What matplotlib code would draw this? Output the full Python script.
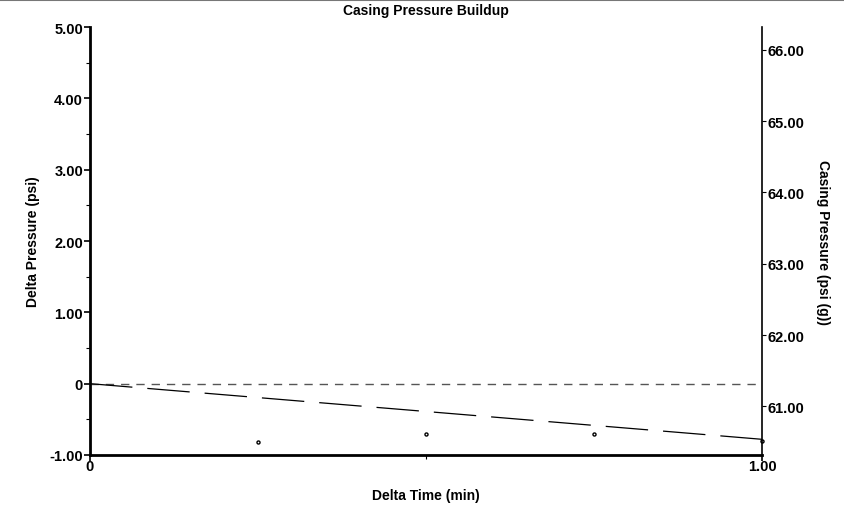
import matplotlib.pyplot as plt
from matplotlib.lines import Line2D

plt.rcParams['font.family'] = ['Liberation Sans', 'DejaVu Sans']
plt.rcParams['font.weight'] = 'bold'

# measured buildup points (delta time in min, delta pressure in psi)
delta_time = [0.25, 0.50, 0.75, 1.00]
delta_pressure = [-0.82, -0.70, -0.70, -0.81]

# fitted trend line
trend_time = [0.0, 1.0]
trend_pressure = [0.0, -0.78]

base_pressure = 61.32  # casing pressure at delta 0 (psi g)

left_ticks = [-1, 0, 1, 2, 3, 4, 5]
left_labels = ["-1.00", "0", "1.00", "2.00", "3.00", "4.00", "5.00"]
right_ticks = [61, 62, 63, 64, 65, 66]
right_labels = ["61.00", "62.00", "63.00", "64.00", "65.00", "66.00"]

fig = plt.figure(figsize=(8.44, 5.06), dpi=100)
ax = fig.add_axes([90/844, 1 - 456/506, 672/844, 428/506])

ax.axhline(0, color="#555555", lw=1.0, dashes=(6, 5))
ax.plot(trend_time, trend_pressure, color="black", lw=0.9, dashes=(34, 12))
ax.plot(delta_time, delta_pressure, "o", ms=2.2, mfc="white", mec="black", mew=1.0,
        clip_on=False)

ax.set_xlim(0, 1)
ax.set_ylim(-1, 5)
ax.set_xticks([0, 1])
ax.set_xticklabels(["0", "1.00"])
ax.set_xticks([0.5], minor=True)
ax.set_yticks(left_ticks)
ax.set_yticklabels(left_labels)
ax.set_yticks([-0.5, 0.5, 1.5, 2.5, 3.5, 4.5], minor=True)
ax.tick_params(axis="both", labelsize=10.5, length=4, width=1.2, pad=1)
ax.tick_params(axis="both", which="minor", length=3, width=0.8)
ax.tick_params(axis="x", pad=-1)

for s in ["top", "right"]:
    ax.spines[s].set_visible(False)
ax.spines["left"].set_linewidth(2.0)
ax.spines["bottom"].set_linewidth(2.0)

ax.set_title("Casing Pressure Buildup", fontsize=10, fontweight="bold", pad=9)
ax.set_xlabel("Delta Time (min)", fontsize=10, fontweight="bold", labelpad=11)
ax.set_ylabel("Delta Pressure (psi)", fontsize=10, fontweight="bold", labelpad=7)

ax2 = ax.twinx()
ax2.set_ylim(base_pressure - 1, base_pressure + 5)
ax2.set_yticks(right_ticks)
ax2.set_yticklabels(right_labels)
ax2.tick_params(axis="y", labelsize=10.5, length=3, width=0.8, pad=1)
for s in ["top", "left", "bottom"]:
    ax2.spines[s].set_visible(False)
ax2.spines["right"].set_linewidth(1.2)
ax2.set_ylabel("Casing Pressure (psi (g))", fontsize=10, fontweight="bold",
               rotation=-90, labelpad=18)

# gray border along the top of the picture
fig.add_artist(Line2D([0, 1], [0.998, 0.998], transform=fig.transFigure,
                      color="#777777", lw=1.5))

fig.savefig("out.png", dpi=100)
